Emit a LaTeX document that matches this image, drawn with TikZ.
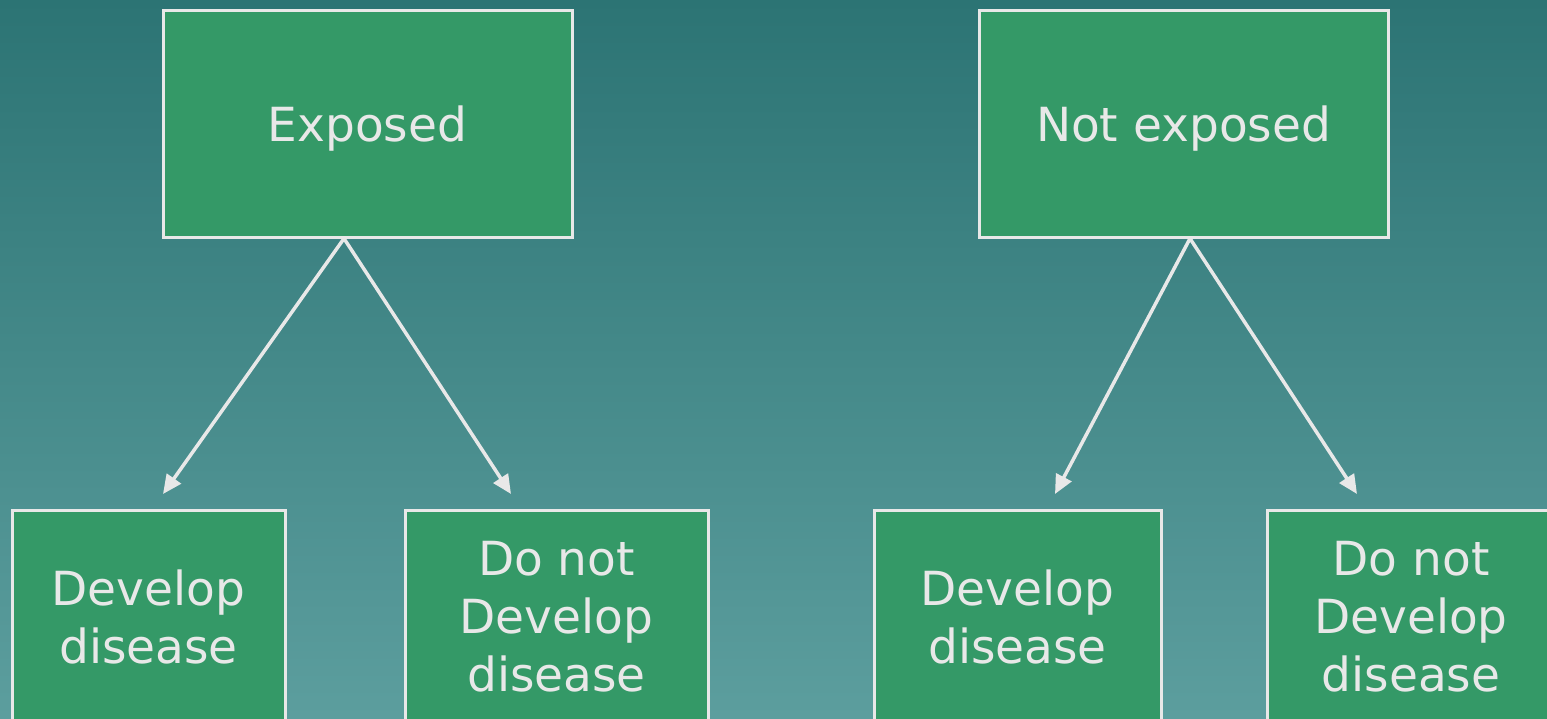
\documentclass[tikz,border=0pt]{standalone}
\usepackage{fontspec}
\setmainfont{DejaVu Sans}
\usetikzlibrary{arrows.meta,calc}
\definecolor{bgtop}{RGB}{44,116,116}
\definecolor{bgbot}{RGB}{92,158,158}
\definecolor{boxgreen}{RGB}{52,153,103}
\definecolor{linegray}{RGB}{232,232,232}
\tikzset{
  groupbox/.style={draw=linegray, line width=3pt, fill=boxgreen, text=linegray,
    align=center, inner sep=0pt, font=\fontsize{47}{58}\selectfont},
  headbox/.style={groupbox, minimum width=409pt, minimum height=227pt, text depth=0pt},
  outcomebox/.style={groupbox, anchor=north, minimum height=212pt},
  link/.style={draw=linegray, line width=3.5pt, -{Triangle[length=19pt,width=17pt]}}
}
\begin{document}
\begin{tikzpicture}[x=1pt,y=-1pt]
  \useasboundingbox (0,0) rectangle (1547,718);
  \clip (0,0) rectangle (1547,718);
  \shade[top color=bgtop, bottom color=bgbot] (0,0) rectangle (1547,718);

  % exposure groups
  \node[headbox] (exp) at (367.5,123.5) {Exposed};
  \node[headbox] (nexp) at (1183.5,123.5) {Not exposed};

  % outcomes
  \node[outcomebox, minimum width=273pt] (d1) at (148.5,509) {Develop\\disease};
  \node[outcomebox, minimum width=303pt] (n1) at (556.5,509) {Do not\\Develop\\disease};
  \node[outcomebox, minimum width=287pt] (d2) at (1017.5,509) {Develop\\disease};
  \node[outcomebox, minimum width=288pt] (n2) at (1411,509) {Do not\\Develop\\disease};

  % arrow origins and tips
  \coordinate (e0) at ($(exp.south)+(-23.5,0)$);
  \coordinate (n0) at ($(nexp.south)+(6.5,0)$);
  \coordinate (d1t) at ($(d1.north)+(14.5,-15)$);
  \coordinate (n1t) at ($(n1.north)+(-45.5,-15)$);
  \coordinate (d2t) at ($(d2.north)+(37.5,-15)$);
  \coordinate (n2t) at ($(n2.north)+(-54,-15)$);

  \draw[link] (e0) -- (d1t);
  \draw[link] (e0) -- (n1t);
  \draw[link] (n0) -- (d2t);
  \draw[link] (n0) -- (n2t);
\end{tikzpicture}
\end{document}
